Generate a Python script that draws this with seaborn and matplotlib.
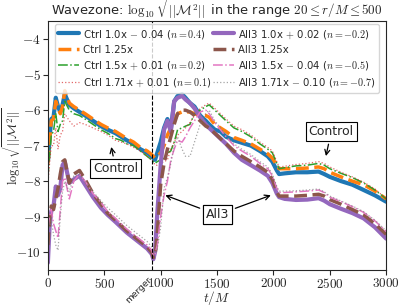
import numpy as np
import pandas as pd
import matplotlib
matplotlib.use("Agg")
import matplotlib.pyplot as plt
import seaborn as sns
from matplotlib.ticker import FuncFormatter
import matplotlib.transforms as mtransforms

t = [0, 15, 30, 50, 70, 90, 110, 130, 150, 190, 230, 280, 330, 400, 470, 530, 600, 650, 700, 760,
     820, 880, 920, 935, 950, 970, 1000, 1030, 1060, 1090, 1120, 1150, 1190, 1220, 1260, 1300, 1350,
     1400, 1430, 1480, 1530, 1580, 1650, 1720, 1800, 1880, 1950, 1990, 2030, 2050, 2100, 2200, 2300,
     2400, 2450, 2500, 2600, 2700, 2800, 2900, 3000]

ctrl_10 = [-7.45, -6.8, -6.25, -6.2, -5.65, -5.9, -6.05, -5.85, -5.55, -5.85, -5.95, -6.05, -6.15, -6.3, -6.45,
           -6.55, -6.65, -6.75, -6.85, -6.95, -7.1, -7.2, -7.3, -7.35, -7.4, -7.2,
           -6.9, -6.5, -6.25, -6.55, -5.75, -5.6, -5.55, -5.65, -5.8, -5.9, -6.15, -6.3, -6.4, -6.55,
           -6.6, -6.75, -6.85, -6.92, -7.0, -7.15, -7.3, -7.45, -7.7, -7.8, -7.78, -7.75, -7.75, -7.73, -7.8,
           -7.88, -8.0, -8.1, -8.25, -8.4, -8.58]
ctrl_125 = [-7.5, -6.9, -6.3, -6.25, -5.75, -5.95, -6.1, -5.9, -5.45, -5.8, -5.9, -6.0, -6.1, -6.25, -6.4,
            -6.5, -6.6, -6.7, -6.8, -6.9, -7.05, -7.15, -7.25, -7.3, -7.35, -7.3,
            -7.2, -7.0, -6.7, -6.5, -6.3, -6.1, -6.05, -6.05, -6.05, -6.1, -6.15, -6.15, -6.2, -6.4,
            -6.5, -6.6, -6.77, -6.85, -6.95, -7.1, -7.23, -7.35, -7.55, -7.65, -7.65, -7.65, -7.63, -7.6, -7.65,
            -7.75, -7.88, -8.0, -8.1, -8.28, -8.5]
ctrl_15 = [-7.9, -7.3, -6.7, -6.6, -6.1, -6.6, -6.4, -6.3, -5.75, -6.0, -6.1, -6.15, -6.25, -6.4, -6.55,
           -6.65, -6.8, -6.85, -6.95, -7.0, -7.15, -7.3, -7.4, -7.45, -7.5, -7.45,
           -7.4, -7.35, -7.2, -7.15, -6.9, -6.55, -6.5, -6.45, -6.4, -6.1, -6.0, -5.9, -5.85, -6.0,
           -6.15, -6.3, -6.5, -6.6, -6.75, -6.95, -7.1, -7.2, -7.5, -7.65, -7.62, -7.57, -7.55, -7.5, -7.55,
           -7.65, -7.78, -7.9, -8.05, -8.25, -8.5]
ctrl_171 = [-8.1, -7.5, -7.0, -7.0, -6.5, -7.1, -6.7, -6.6, -6.1, -6.3, -6.45, -6.35, -6.4, -6.5, -6.6,
            -6.7, -6.85, -6.9, -6.95, -7.05, -7.15, -7.3, -7.4, -7.45, -7.55, -7.55,
            -7.5, -7.45, -7.4, -7.1, -6.9, -6.7, -6.6, -6.5, -6.35, -6.15, -5.95, -5.85, -5.8, -5.95,
            -6.1, -6.25, -6.45, -6.55, -6.7, -6.9, -7.05, -7.15, -7.45, -7.6, -7.58, -7.53, -7.5, -7.45, -7.5,
            -7.6, -7.75, -7.88, -8.03, -8.22, -8.5]
all3_10 = [-10.3, -9.3, -8.85, -8.7, -8.15, -8.4, -8.2, -7.55, -7.45, -8.05, -7.95, -7.85, -8.1, -8.45, -8.75,
           -8.95, -9.15, -9.3, -9.45, -9.6, -9.75, -9.9, -10.05, -10.2, -10.0, -8.9,
           -7.55, -6.55, -6.3, -6.6, -5.75, -5.65, -5.6, -5.7, -5.8, -5.95, -6.2, -6.4, -6.5, -6.65,
           -6.8, -6.95, -7.2, -7.4, -7.55, -7.7, -7.85, -8.05, -8.35, -8.45, -8.5, -8.53, -8.52, -8.48, -8.55,
           -8.65, -8.78, -8.9, -9.05, -9.3, -9.62]
all3_125 = [-9.8, -9.1, -8.7, -8.8, -8.5, -8.2, -7.8, -7.45, -7.4, -8.05, -7.8, -7.7, -7.95, -8.35, -8.65,
            -8.9, -9.1, -9.25, -9.4, -9.55, -9.7, -9.85, -10.0, -10.15, -10.1, -9.5,
            -8.1, -7.5, -7.1, -6.75, -6.4, -6.1, -6.0, -6.0, -6.05, -6.15, -6.3, -6.45, -6.5, -6.65,
            -6.8, -6.95, -7.15, -7.3, -7.45, -7.6, -7.75, -7.95, -8.3, -8.42, -8.42, -8.42, -8.4, -8.37, -8.42,
            -8.52, -8.65, -8.8, -8.95, -9.2, -9.5]
all3_15 = [-9.3, -9.0, -8.8, -9.2, -9.4, -9.6, -8.8, -8.0, -7.9, -8.5, -8.0, -7.8, -8.0, -8.35, -8.6,
           -8.85, -9.05, -9.2, -9.35, -9.5, -9.65, -9.8, -9.95, -10.1, -10.05, -9.8,
           -9.0, -8.4, -8.0, -7.4, -7.1, -6.85, -6.9, -6.75, -6.5, -6.3, -6.05, -6.0, -6.1, -6.35,
           -6.55, -6.75, -7.0, -7.15, -7.3, -7.5, -7.65, -7.85, -8.2, -8.32, -8.32, -8.3, -8.28, -8.25, -8.32,
           -8.45, -8.58, -8.72, -8.88, -9.12, -9.42]
all3_171 = [-9.0, -9.3, -9.1, -9.5, -9.8, -9.95, -9.0, -8.3, -8.0, -8.3, -7.85, -7.8, -8.0, -8.3, -8.55,
            -8.75, -8.95, -9.1, -9.25, -9.4, -9.55, -9.7, -9.85, -10.0, -10.05, -9.9,
            -9.3, -8.2, -7.9, -7.5, -7.0, -6.75, -7.1, -7.3, -7.3, -6.9, -6.4, -6.1, -6.0, -6.3,
            -6.5, -6.7, -6.95, -7.1, -7.25, -7.45, -7.6, -7.8, -8.15, -8.28, -8.28, -8.27, -8.25, -8.22, -8.3,
            -8.42, -8.56, -8.7, -8.86, -9.1, -9.4]

labels = [r"Ctrl 1.0x $-$ 0.04 ($n=0.4$)", "Ctrl 1.25x", r"Ctrl 1.5x $+$ 0.01 ($n=0.2$)",
          r"Ctrl 1.71x $+$ 0.01 ($n=0.1$)",
          r"All3 1.0x $+$ 0.02 ($n=-0.2$)", "All3 1.25x", r"All3 1.5x $-$ 0.04 ($n=-0.5$)",
          r"All3 1.71x $-$ 0.10 ($n=-0.7$)"]
t_merger = 920

sns.set_style("ticks")
plt.rcParams["font.family"] = ["DejaVu Sans"]
plt.rcParams["mathtext.fontset"] = "cm"

fig = plt.figure(figsize=(3.99, 3.06), dpi=100)
ax = fig.add_axes([0.12, 0.118, 0.848, 0.812])

series = [ctrl_10, ctrl_125, ctrl_15, ctrl_171, all3_10, all3_125, all3_15, all3_171]
colors = ["#1f77b4", "#ff7f0e", "#2ca02c", "#d62728", "#9467bd", "#8c564b", "#e377c2", "#7f7f7f"]
styles = ["-", "--", "-.", ":", "-", "--", "-.", ":"]
widths = [3.0, 2.5, 1.1, 0.9, 3.0, 2.5, 1.1, 0.9]
alphas = [1, 1, 1, 0.7, 1, 1, 1, 0.7]

for y, c, ls, lw, a, lab in zip(series, colors, styles, widths, alphas, labels):
    sns.lineplot(x=t, y=y, ax=ax, color=c, linestyle=ls, linewidth=lw, alpha=a, label=lab)

ax.axvline(t_merger, color="k", linestyle="--", linewidth=0.8)

ax.set_xlim(0, 3000)
ax.set_ylim(-10.5, -3.5)
ax.set_xticks([0, 500, 1000, 1500, 2000, 2500, 3000])
ax.set_yticks([-10, -9, -8, -7, -6, -5, -4])
fmt = FuncFormatter(lambda v, p: r"$%d$" % v)
ax.xaxis.set_major_formatter(fmt)
ax.yaxis.set_major_formatter(fmt)
ax.tick_params(labelsize=9.5, length=3.5, width=0.8, pad=1.5)
for s in ax.spines.values():
    s.set_linewidth(0.8)
    s.set_visible(True)

ax.set_xlabel(r"$t/M$", fontsize=9.5, labelpad=-1)
ax.set_ylabel(r"$\log_{10}\sqrt{||\mathcal{M}^2||}$", fontsize=9)
ax.yaxis.set_label_coords(-0.073, 0.5)
ax.set_title(r"Wavezone: $\log_{10}\sqrt{||\mathcal{M}^2||}$ in the range $20 \leq r/M \leq 500$",
             fontsize=9.4, pad=1.5)

trans = mtransforms.blended_transform_factory(ax.transData, ax.transAxes)
ax.text(t_merger + 20, -0.02, "merger", rotation=45, ha="right", va="top", fontsize=6.5, transform=trans)

bbox = dict(boxstyle="square,pad=0.25", fc="white", ec="black", lw=0.8)
arrow = dict(arrowstyle="->", color="black", lw=0.9)
ax.annotate("Control", xy=(557, -6.96), xytext=(602, -7.65), ha="center", va="center",
            fontsize=9, bbox=bbox, arrowprops=arrow)
ax.annotate("Control", xy=(2460, -7.37), xytext=(2513, -6.6), ha="center", va="center",
            fontsize=9, bbox=bbox, arrowprops=arrow)
ax.annotate("All3", xy=(1018, -8.37), xytext=(1504, -8.95), ha="center", va="center",
            fontsize=9, bbox=bbox, arrowprops=arrow)
ax.annotate("All3", xy=(2000, -8.37), xytext=(1504, -8.95), ha="center", va="center",
            fontsize=9, bbox=bbox, arrowprops=arrow)

ax.legend(loc="upper center", ncol=2, fontsize=7.3, columnspacing=0.15, handlelength=2.0,
          handletextpad=0.45, labelspacing=0.42, borderaxespad=0.25, borderpad=0.35,
          framealpha=0.8)

fig.savefig("out.png", dpi=100)
